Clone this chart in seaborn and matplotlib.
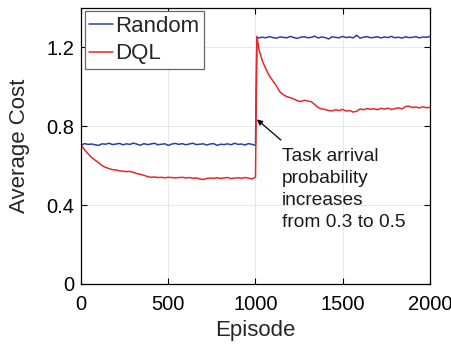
import pandas as pd
import matplotlib
matplotlib.use("Agg")
import matplotlib.pyplot as plt
import seaborn as sns

# episodes: first phase, the jump, second phase
episodes = list(range(0, 1001, 20)) + [1008] + list(range(1020, 2001, 20))

random_cost = [
    0.705, 0.712, 0.708, 0.710, 0.706, 0.703, 0.711, 0.709, 0.714, 0.707,
    0.710, 0.713, 0.706, 0.711, 0.708, 0.715, 0.709, 0.704, 0.712, 0.707,
    0.710, 0.714, 0.706, 0.709, 0.711, 0.703, 0.710, 0.713, 0.708, 0.712,
    0.706, 0.710, 0.714, 0.707, 0.709, 0.711, 0.705, 0.710, 0.712, 0.703,
    0.709, 0.707, 0.711, 0.706, 0.714, 0.708, 0.710, 0.705, 0.712, 0.708,
    0.704,
    1.252,
    1.248, 1.252, 1.249, 1.255, 1.250, 1.247, 1.253, 1.251, 1.249, 1.256,
    1.250, 1.246, 1.252, 1.254, 1.249, 1.251, 1.257, 1.248, 1.253, 1.250,
    1.243, 1.254, 1.251, 1.249, 1.256, 1.250, 1.253, 1.248, 1.262, 1.247,
    1.252, 1.255, 1.249, 1.251, 1.254, 1.248, 1.253, 1.250, 1.256, 1.249,
    1.252, 1.247, 1.254, 1.250, 1.251, 1.255, 1.248, 1.253, 1.251, 1.256,
]

dql_cost = [
    0.705, 0.680, 0.660, 0.642, 0.628, 0.615, 0.600, 0.592, 0.585, 0.580,
    0.578, 0.574, 0.572, 0.570, 0.571, 0.566, 0.560, 0.556, 0.551, 0.545,
    0.541, 0.543, 0.540, 0.541, 0.539, 0.541, 0.540, 0.538, 0.540, 0.541,
    0.538, 0.540, 0.536, 0.538, 0.533, 0.530, 0.535, 0.537, 0.536, 0.539,
    0.535, 0.538, 0.540, 0.535, 0.537, 0.539, 0.536, 0.540, 0.537, 0.533,
    0.542,
    1.255,
    1.190, 1.130, 1.090, 1.055, 1.030, 1.005, 0.975, 0.960, 0.950, 0.945,
    0.938, 0.930, 0.925, 0.932, 0.928, 0.925, 0.910, 0.895, 0.888, 0.885,
    0.880, 0.878, 0.884, 0.879, 0.886, 0.877, 0.880, 0.872, 0.876, 0.888,
    0.884, 0.890, 0.886, 0.889, 0.884, 0.891, 0.887, 0.892, 0.885, 0.889,
    0.894, 0.888, 0.900, 0.902, 0.895, 0.898, 0.893, 0.899, 0.894, 0.896,
]

methods = ["Random", "DQL"]
colors = {"Random": "#2b3fa6", "DQL": "#e8282b"}

df = pd.concat([
    pd.DataFrame({"Episode": episodes, "Cost": random_cost, "Method": "Random"}),
    pd.DataFrame({"Episode": episodes, "Cost": dql_cost, "Method": "DQL"}),
])

sns.set_style("whitegrid")
plt.rcParams["font.family"] = ["Liberation Sans", "DejaVu Sans"]

fig = plt.figure(figsize=(4.51, 3.48), dpi=100)
ax = fig.add_axes([0.18, 0.184, 0.773, 0.793])

sns.lineplot(data=df, x="Episode", y="Cost", hue="Method", hue_order=methods,
             palette=colors, linewidth=1.1, ax=ax, estimator=None, sort=False)

ax.set_xlim(0, 2000)
ax.set_ylim(0, 1.4)
ax.set_xticks([0, 500, 1000, 1500, 2000])
ax.set_yticks([0, 0.4, 0.8, 1.2])
ax.set_yticklabels(["0", "0.4", "0.8", "1.2"])
ax.set_xlabel("Episode", fontsize=16, labelpad=4)
ax.set_ylabel("Average Cost", fontsize=16, labelpad=12)
ax.tick_params(labelsize=14.5, direction="in", length=4, width=0.8,
               top=True, right=True, bottom=True, left=True, colors="black")
ax.tick_params(axis="x", pad=8)
ax.tick_params(axis="y", pad=5)
ax.grid(True, color="#e8e8e8", linewidth=0.7)
for s in ax.spines.values():
    s.set_color("black")
    s.set_linewidth(0.9)

leg = ax.legend(loc="upper left", fontsize=16, handlelength=1.05, handletextpad=0.1,
                borderpad=0.22, labelspacing=0.28, borderaxespad=0.15, fancybox=False,
                framealpha=1)
leg.get_frame().set_edgecolor("#666666")
leg.get_frame().set_linewidth(0.9)

# note + arrow pointing at the jump
ax.text(1150, 0.69, "Task arrival\nprobability\nincreases\nfrom 0.3 to 0.5",
        fontsize=13.8, va="top", linespacing=1.38, color="#1a1a1a")
ax.annotate("", xy=(1008, 0.835), xytext=(1146, 0.73),
            arrowprops=dict(arrowstyle="-|>", color="black", lw=0.9,
                            mutation_scale=8, shrinkA=0, shrinkB=0))

fig.savefig("out.png", dpi=100)
